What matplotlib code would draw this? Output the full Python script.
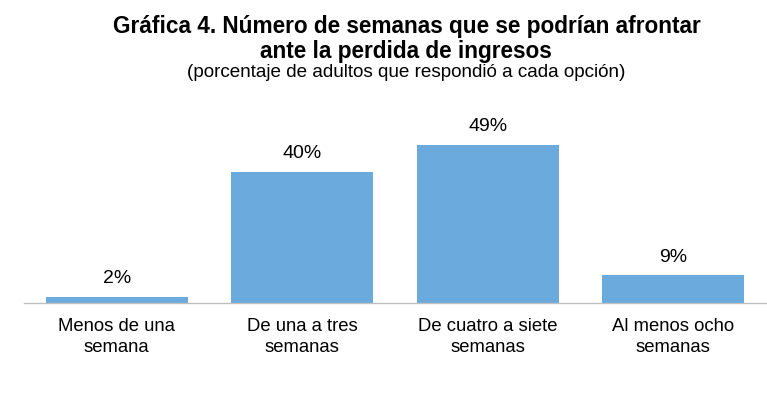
import matplotlib
matplotlib.use("Agg")
import matplotlib.pyplot as plt

categories = ["Menos de una\nsemana", "De una a tres\nsemanas", "De cuatro a siete\nsemanas", "Al menos ocho\nsemanas"]
values = [1.9, 40.7, 49.1, 8.6]
value_labels = ["2%", "40%", "49%", "9%"]

title_line1 = "Gráfica 4. Número de semanas que se podrían afrontar"
title_line2 = "ante la perdida de ingresos"
subtitle = "(porcentaje de adultos que respondió a cada opción)"

plt.rcParams["font.family"] = ["Liberation Sans", "DejaVu Sans"]

fig = plt.figure(figsize=(7.67, 3.95), dpi=100)
ax = fig.add_axes([24 / 767, 92 / 395, 742 / 767, 193 / 395])

x = range(len(categories))
bars = ax.bar(x, values, width=0.765, color="#6AAADC")
for b, lab in zip(bars, value_labels):
    ax.annotate(lab, (b.get_x() + b.get_width() / 2, b.get_height()),
                xytext=(0, 7), textcoords="offset points",
                ha="center", va="bottom", fontsize=14)

ax.set_xlim(-0.5, len(categories) - 0.5)
ax.set_ylim(0, 60)
ax.set_xticks(list(x))
ax.set_xticklabels(categories, fontsize=13.3, linespacing=1.32)
ax.tick_params(axis="x", length=0, pad=11)
ax.set_yticks([])
for side in ["top", "left", "right"]:
    ax.spines[side].set_visible(False)
ax.spines["bottom"].set_color("#BFBFBF")
ax.spines["bottom"].set_linestyle((0, (1, 1)))
ax.spines["bottom"].set_linewidth(1.0)

fig.text(407 / 767, 1 - 33 / 395, title_line1, ha="center", va="baseline",
         fontsize=16.3, fontweight="bold")
fig.text(406 / 767, 1 - 58 / 395, title_line2, ha="center", va="baseline",
         fontsize=16.3, fontweight="bold")
fig.text(406 / 767, 1 - 77 / 395, subtitle, ha="center", va="baseline",
         fontsize=13.6)

fig.savefig("out.png", dpi=100)
